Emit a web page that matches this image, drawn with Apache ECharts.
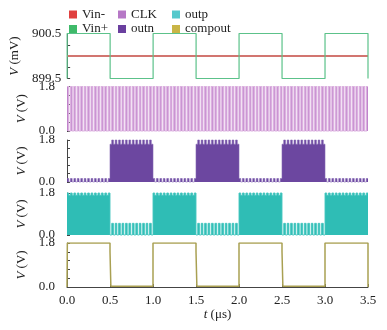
<!DOCTYPE html>
<html>
<head>
<meta charset="utf-8">
<script src="https://cdn.jsdelivr.net/npm/echarts@6/dist/echarts.min.js"></script>
<style>
  html, body { margin: 0; padding: 0; background: #fff; }
  #chart { width: 387px; height: 330px; }
</style>
</head>
<body>
<div id="chart"></div>
<script>
// Time axis (μs)
const timeTicks = [0.0, 0.5, 1.0, 1.5, 2.0, 2.5, 3.0, 3.5];

// Input pair (mV)
const vinMinusTime = [0.0, 3.5];
const vinMinusVolt = [900.0, 900.0];
const vinPlusTime = [0.0, 0.0, 0.5, 0.5, 1.0, 1.0, 1.5, 1.5, 2.0, 2.0, 2.5, 2.5, 3.0, 3.0, 3.5, 3.5];
const vinPlusVolt = [899.5, 900.5, 900.5, 899.5, 899.5, 900.5, 900.5, 899.5, 899.5, 900.5, 900.5, 899.5, 899.5, 900.5, 900.5, 899.5];

// Clock: half period in μs (40 ns period)
const clkHalfPeriod = 0.02;

// Phase boundaries of the input (μs) and per-phase toggle levels (V)
const phaseEdges = [0.0, 0.5, 1.0, 1.5, 2.0, 2.5, 3.0, 3.5];
const clkLow  = [0.0, 0.0, 0.0, 0.0, 0.0, 0.0, 0.0];
const clkHigh = [1.8, 1.8, 1.8, 1.8, 1.8, 1.8, 1.8];
const outnLow  = [0.0, 1.62, 0.0, 1.62, 0.0, 1.62, 0.0];
const outnHigh = [0.15, 1.8, 0.15, 1.8, 0.15, 1.8, 0.15];
const outpLow  = [1.7, 0.0, 1.7, 0.0, 1.7, 0.0, 1.7];
const outpHigh = [1.8, 0.5, 1.8, 0.5, 1.8, 0.5, 1.8];

// Latched comparator output (V)
const compTime = [0.0, 0.004, 0.5, 0.5, 0.51, 0.51, 1.0, 1.0, 1.5, 1.5, 1.51, 1.51, 2.0, 2.0, 2.5, 2.5, 2.51, 2.51, 3.0, 3.0, 3.5, 3.5, 3.5];
const compVolt = [0.0, 1.8, 1.8, 1.45, 1.45, 0.03, 0.03, 1.8, 1.8, 1.45, 1.45, 0.03, 0.03, 1.8, 1.8, 1.45, 1.45, 0.03, 0.03, 1.8, 1.8, 1.3, 0.0];

function zip(ts, vs) { return ts.map((t, i) => [t, vs[i]]); }

// Expand per-phase levels into a clocked waveform toggling every half period
function clocked(lo, hi) {
  const pts = [];
  const end = phaseEdges[phaseEdges.length - 1];
  const n = Math.round(end / clkHalfPeriod);
  for (let k = 0; k < n; k++) {
    const t0 = k * clkHalfPeriod, t1 = (k + 1) * clkHalfPeriod;
    const mid = (t0 + t1) / 2;
    let seg = 0;
    while (seg < phaseEdges.length - 2 && mid >= phaseEdges[seg + 1]) seg++;
    const v = (k % 2 === 0) ? hi[seg] : lo[seg];
    pts.push([t0, v], [t1, v]);
  }
  return pts;
}

const serif = "'Liberation Serif', 'DejaVu Serif', 'Times New Roman', serif";
const axisColor = '#444';
const textColor = '#222';

const grids = [
  { left: 67, width: 301, top: 33.5, height: 45 },
  { left: 67, width: 301, top: 86.5, height: 44.5 },
  { left: 67, width: 301, top: 140, height: 42 },
  { left: 67, width: 301, top: 193, height: 42 },
  { left: 67, width: 301, top: 243, height: 44 }
];

const xAxes = grids.map((g, i) => {
  const last = i === grids.length - 1;
  return {
    gridIndex: i, type: 'value', min: 0, max: 3.5, interval: 0.5,
    show: last,
    offset: last ? 4 : 0,
    axisLine: { show: true, lineStyle: { color: axisColor, width: 1 } },
    axisTick: { show: true, inside: true, length: 3, lineStyle: { color: axisColor } },
    axisLabel: {
      show: last, margin: 3, color: textColor, fontFamily: serif, fontSize: 13,
      formatter: v => v.toFixed(1)
    },
    splitLine: { show: false },
    name: last ? '{i|t} (μs)' : '',
    nameLocation: 'middle', nameGap: 16,
    nameTextStyle: {
      color: textColor, fontFamily: serif, fontSize: 13,
      rich: { i: { fontStyle: 'italic', fontFamily: serif, fontSize: 13, color: textColor } }
    }
  };
});

function yAxis(i, min, max, interval, labels, margin, name, gap) {
  return {
    gridIndex: i, type: 'value', min: min, max: max, interval: interval,
    offset: 4,
    axisLine: { show: true, lineStyle: { color: axisColor, width: 1 } },
    axisTick: { show: true, inside: true, length: 3, lineStyle: { color: axisColor } },
    axisLabel: {
      margin: margin, color: textColor, fontFamily: serif, fontSize: 13,
      showMinLabel: true, showMaxLabel: true,
      formatter: v => {
        for (const l of labels) if (Math.abs(v - l) < 1e-6) return l.toFixed(1);
        return '';
      }
    },
    splitLine: { show: false },
    name: name, nameLocation: 'middle', nameGap: gap,
    nameTextStyle: {
      color: textColor, fontFamily: serif, fontSize: 13,
      rich: { i: { fontStyle: 'italic', fontFamily: serif, fontSize: 13, color: textColor } }
    }
  };
}

const yAxes = [
  yAxis(0, 899.5, 900.5, 0.25, [899.5, 900.5], 2, '{i|V} (mV)', 31),
  yAxis(1, 0, 1.8, 0.36, [0, 1.8], 8, '{i|V} (V)', 35),
  yAxis(2, 0, 1.8, 0.36, [0, 1.8], 8, '{i|V} (V)', 35),
  yAxis(3, 0, 1.8, 0.36, [0, 1.8], 8, '{i|V} (V)', 35),
  yAxis(4, 0, 1.8, 0.36, [0, 1.8], 8, '{i|V} (V)', 35)
];

function lineSeries(name, idx, data, color, width) {
  return {
    name: name, type: 'line', xAxisIndex: idx, yAxisIndex: idx,
    data: data, symbol: 'none', showSymbol: false, animation: false,
    color: color,
    lineStyle: { color: color, width: width },
    itemStyle: { color: color },
    z: 2
  };
}

// Dense clocked waveform: one filled polygon down to 0 V plus its outline,
// built from every sample so that no short segment gets merged away.
function waveSeries(name, idx, data, lineColor, fillColor, lineWidth) {
  return {
    name: name, type: 'custom', coordinateSystem: 'cartesian2d',
    xAxisIndex: idx, yAxisIndex: idx,
    data: data, encode: { x: 0, y: 1 },
    animation: false, silent: true,
    itemStyle: { color: lineColor },
    renderItem: (params, api) => {
      if (params.dataIndexInside !== 0) return null;
      const n = params.dataInsideLength;
      const line = [];
      for (let i = 0; i < n; i++) line.push(api.coord([api.value(0, i), api.value(1, i)]));
      const b0 = api.coord([api.value(0, 0), 0]);
      const b1 = api.coord([api.value(0, n - 1), 0]);
      return {
        type: 'group',
        children: [
          { type: 'polygon', shape: { points: line.concat([b1, b0]) }, style: { fill: fillColor } },
          { type: 'polyline', shape: { points: line }, style: { stroke: lineColor, lineWidth: lineWidth, fill: null } }
        ]
      };
    }
  };
}

const legendStyle = {
  orient: 'vertical', icon: 'rect', itemWidth: 8, itemHeight: 8, itemGap: 1.5,
  padding: 0,
  textStyle: { color: textColor, fontFamily: serif, fontSize: 13, lineHeight: 12 },
  selectedMode: false, top: 8
};

const option = {
  backgroundColor: '#fff',
  animation: false,
  legend: [
    Object.assign({}, legendStyle, { left: 69, data: [
      { name: 'Vin-', itemStyle: { color: '#e0403f' } },
      { name: 'Vin+', itemStyle: { color: '#3fba6a' } }
    ] }),
    Object.assign({}, legendStyle, { left: 118, data: [
      { name: 'CLK', itemStyle: { color: '#b678c6' } },
      { name: 'outn', itemStyle: { color: '#6a3f9f' } }
    ] }),
    Object.assign({}, legendStyle, { left: 172, data: [
      { name: 'outp', itemStyle: { color: '#55c9cc' } },
      { name: 'compout', itemStyle: { color: '#c9b546' } }
    ] })
  ],
  grid: grids,
  xAxis: xAxes,
  yAxis: yAxes,
  series: [
    lineSeries('Vin-', 0, zip(vinMinusTime, vinMinusVolt), '#d27570', 2),
    lineSeries('Vin+', 0, zip(vinPlusTime, vinPlusVolt), '#5cc28a', 1.2),
    waveSeries('CLK', 1, clocked(clkLow, clkHigh), '#dcb2e0', '#c083cb', 1.1),
    waveSeries('outn', 2, clocked(outnLow, outnHigh), '#8466b4', '#6c47a0', 0.6),
    waveSeries('outp', 3, clocked(outpLow, outpHigh), '#45c6c0', '#2fbdb5', 0.9),
    lineSeries('compout', 4, zip(compTime, compVolt), '#a9a052', 1.5)
  ]
};

const chart = echarts.init(document.getElementById('chart'), null, { renderer: 'canvas' });
chart.setOption(option);
</script>
</body>
</html>
